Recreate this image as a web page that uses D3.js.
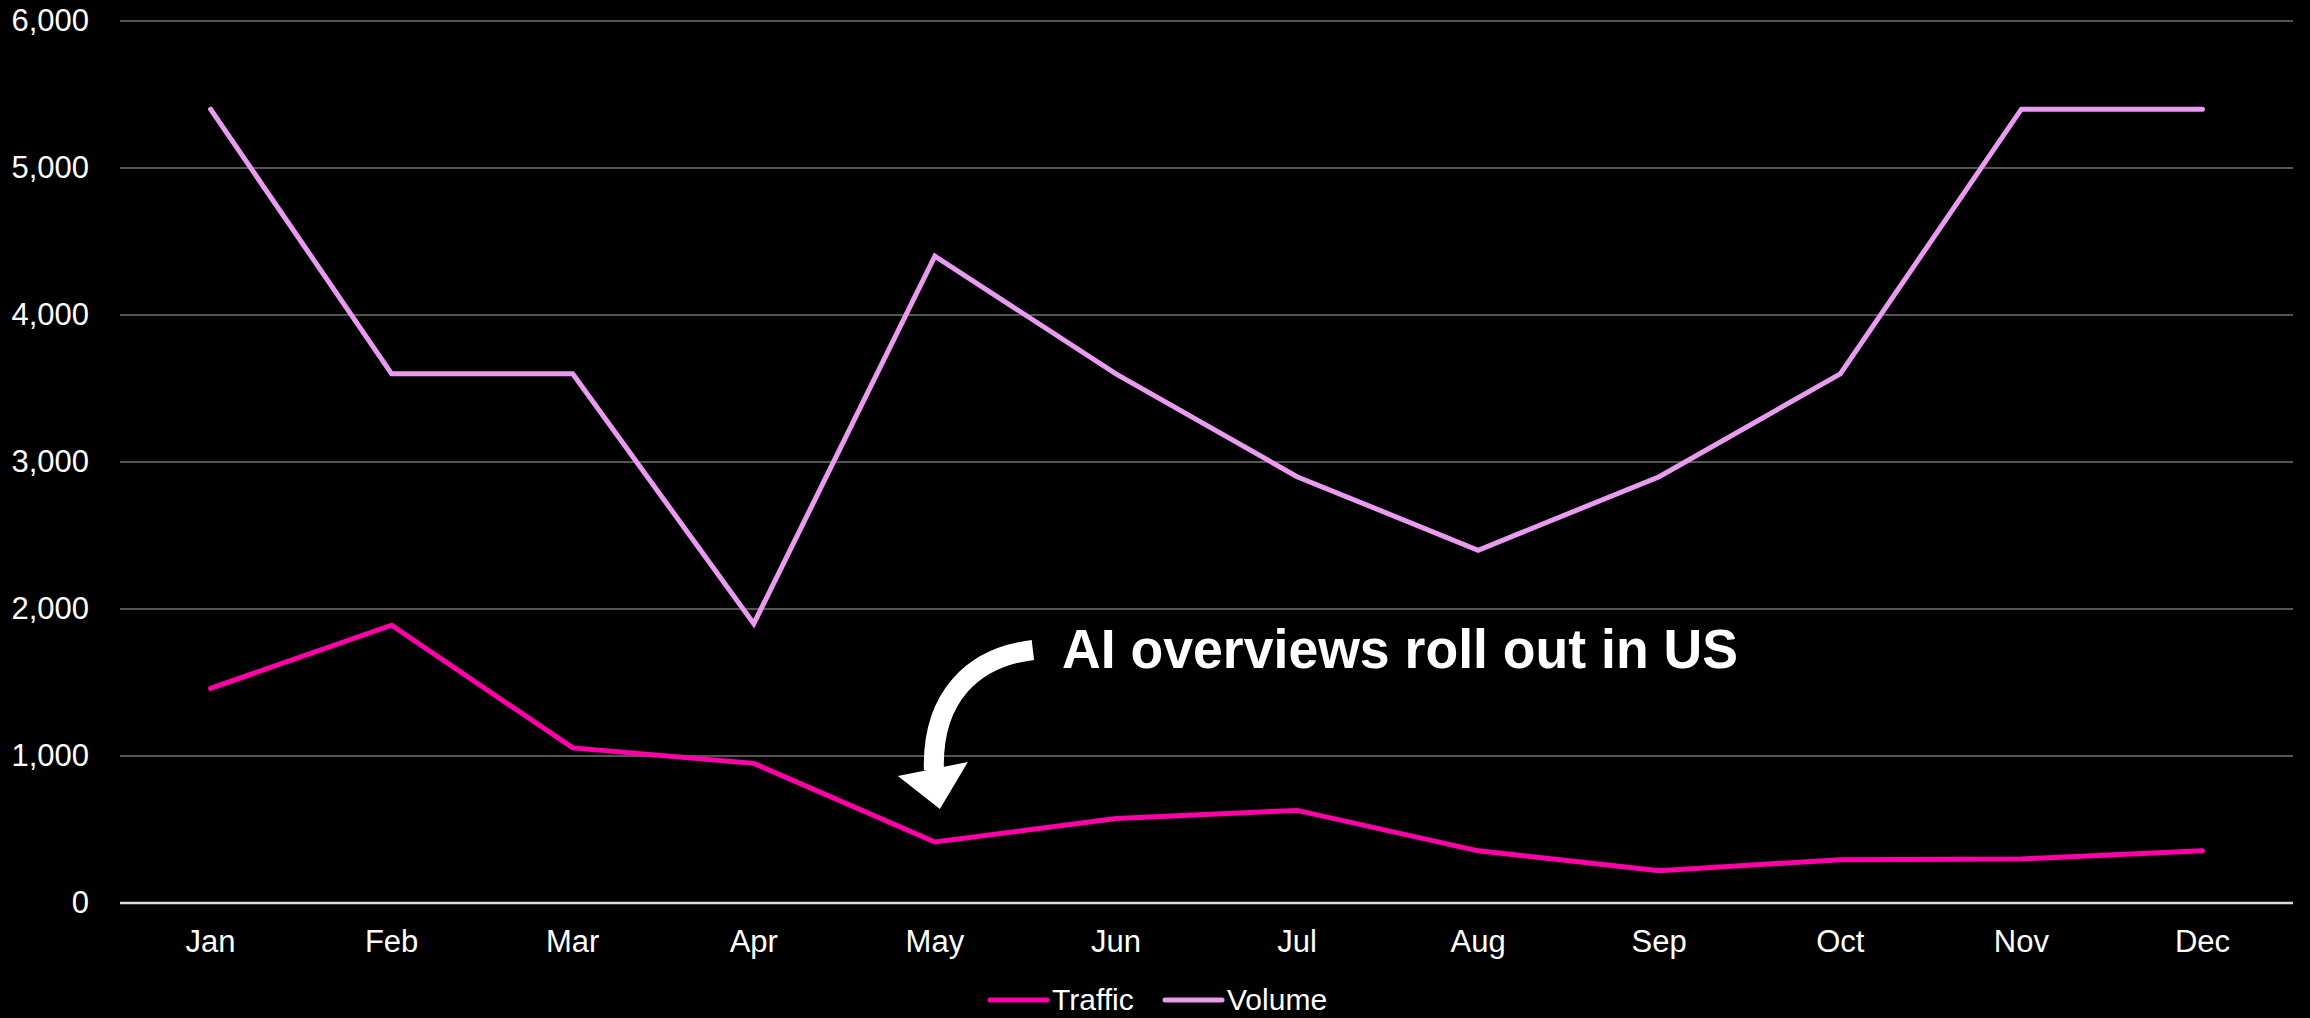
<!DOCTYPE html>
<html>
<head>
<meta charset="utf-8">
<script src="https://cdn.jsdelivr.net/npm/d3@7"></script>
<style>
  html, body { margin: 0; padding: 0; background: #000; }
  svg { display: block; }
</style>
</head>
<body>
<svg id="chart" width="2310" height="1018"></svg>
<script>
const months = ["Jan","Feb","Mar","Apr","May","Jun","Jul","Aug","Sep","Oct","Nov","Dec"];
const traffic = [1460, 1890, 1055, 950, 415, 575, 630, 355, 220, 295, 300, 355];
const volume  = [5400, 3600, 3600, 1900, 4400, 3600, 2900, 2400, 2900, 3600, 5400, 5400];
const yTicks = [0, 1000, 2000, 3000, 4000, 5000, 6000];
const seriesNames = ["Traffic", "Volume"];
const seriesColors = ["#ff00a8", "#e99bf0"];
const annotationText = "AI overviews roll out in US";
const annotationMonth = "May";

const W = 2310, H = 1018;
const margin = {left: 120, right: 17, top: 21, bottom: 115};
const svg = d3.select("#chart");
svg.append("rect").attr("width", W).attr("height", H).attr("fill", "#000");

const x = d3.scaleBand().domain(months).range([margin.left, W - margin.right]).paddingInner(0).paddingOuter(0);
const y = d3.scaleLinear().domain([0, 6000]).range([H - margin.bottom, margin.top]);
const cx = m => x(m) + x.bandwidth() / 2;

// gridlines
svg.append("g").selectAll("line").data(yTicks.filter(t => t > 0)).join("line")
  .attr("x1", margin.left).attr("x2", W - margin.right)
  .attr("y1", d => y(d)).attr("y2", d => y(d))
  .attr("stroke", "#555").attr("stroke-width", 2);

// zero axis
svg.append("line")
  .attr("x1", margin.left).attr("x2", W - margin.right)
  .attr("y1", y(0)).attr("y2", y(0))
  .attr("stroke", "#d9d9d9").attr("stroke-width", 2.5);

const fmt = d3.format(",");
// y labels
svg.append("g").selectAll("text").data(yTicks).join("text")
  .attr("x", 89).attr("y", d => y(d) + 10)
  .attr("text-anchor", "end")
  .attr("font-family", "'Liberation Sans', Arial, sans-serif")
  .attr("font-size", 31).attr("fill", "#fff")
  .text(d => fmt(d));

// x labels
svg.append("g").selectAll("text").data(months).join("text")
  .attr("x", d => cx(d)).attr("y", y(0) + 49)
  .attr("text-anchor", "middle")
  .attr("font-family", "'Liberation Sans', Arial, sans-serif")
  .attr("font-size", 31).attr("fill", "#fff")
  .text(d => d);

// lines
const line = d3.line().x((d, i) => cx(months[i])).y(d => y(d));
[traffic, volume].forEach((s, i) => {
  svg.append("path").datum(s)
    .attr("d", line)
    .attr("fill", "none")
    .attr("stroke", seriesColors[i])
    .attr("stroke-width", 5)
    .attr("stroke-linejoin", "miter")
    .attr("stroke-linecap", "round");
});

// annotation arrow (anchored to May traffic point)
const ax = cx(annotationMonth);
const ay = y(traffic[months.indexOf(annotationMonth)]);
svg.append("path")
  .attr("d", `M${ax + 98},${ay - 192} C${ax + 38},${ay - 185} ${ax - 3},${ay - 145} ${ax - 1},${ay - 72}`)
  .attr("fill", "none").attr("stroke", "#fff").attr("stroke-width", 20);
svg.append("path")
  .attr("d", `M${ax - 37},${ay - 66} L${ax + 33},${ay - 80} L${ax + 5},${ay - 33} Z`)
  .attr("fill", "#fff");

svg.append("text")
  .attr("x", 1062).attr("y", 668)
  .attr("font-family", "'Liberation Sans', Arial, sans-serif")
  .attr("font-weight", "bold")
  .attr("font-size", 56).attr("fill", "#fff")
  .attr("textLength", 676).attr("lengthAdjust", "spacingAndGlyphs")
  .text(annotationText);

// legend
const legX = [990, 1165];
const legY = 1000;
seriesNames.forEach((n, i) => {
  svg.append("line")
    .attr("x1", legX[i]).attr("x2", legX[i] + 57)
    .attr("y1", legY).attr("y2", legY)
    .attr("stroke", seriesColors[i]).attr("stroke-width", 5).attr("stroke-linecap", "round");
  svg.append("text")
    .attr("x", legX[i] + 62).attr("y", legY + 10)
    .attr("font-family", "'Liberation Sans', Arial, sans-serif")
    .attr("font-size", 30).attr("fill", "#fff")
    .text(n);
});
</script>
</body>
</html>
